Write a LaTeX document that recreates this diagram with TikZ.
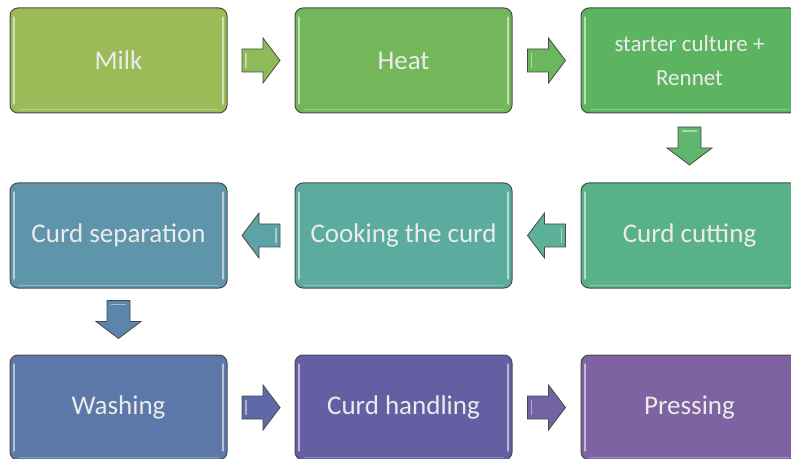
\documentclass[tikz,border=0pt]{standalone}
\usepackage{fontspec}
\setmainfont{Carlito}
\usetikzlibrary{calc}
\definecolor{cMilk}{HTML}{9BBB59}
\definecolor{cHeat}{HTML}{74B65A}
\definecolor{cStart}{HTML}{5DB460}
\definecolor{cCut}{HTML}{59B287}
\definecolor{cCook}{HTML}{5BAC9F}
\definecolor{cSep}{HTML}{5E95AA}
\definecolor{cWash}{HTML}{5B78A9}
\definecolor{cHand}{HTML}{645FA3}
\definecolor{cPress}{HTML}{7F62A1}
\definecolor{aA}{HTML}{8DBB5A}
\definecolor{aB}{HTML}{6BB65E}
\definecolor{aC}{HTML}{5FB66E}
\definecolor{aD}{HTML}{5DB099}
\definecolor{aE}{HTML}{5CA2A6}
\definecolor{aF}{HTML}{5D84AD}
\definecolor{aG}{HTML}{5E6AA8}
\definecolor{aH}{HTML}{7463A3}
\definecolor{edge}{HTML}{4A4A4A}
\tikzset{
  stepbox/.style={draw=edge, line width=1pt, rounded corners=8pt,
    minimum width=217pt, minimum height=105pt, inner sep=0pt,
    text=white!92!black, align=center,
    font=\fontsize{27}{33}\selectfont,
    path picture={
      \draw[white, opacity=.55, line width=1.3pt, line cap=round]
        ([xshift=4pt,yshift=-9pt]path picture bounding box.north west) --
        ([xshift=4pt,yshift=9pt]path picture bounding box.south west);
      \draw[white, opacity=.55, line width=1.3pt, line cap=round]
        ([xshift=-4pt,yshift=-9pt]path picture bounding box.north east) --
        ([xshift=-4pt,yshift=9pt]path picture bounding box.south east);
      \draw[white, opacity=.3, line width=1pt, line cap=round]
        ([xshift=9pt,yshift=3pt]path picture bounding box.south west) --
        ([xshift=-9pt,yshift=3pt]path picture bounding box.south east);
    }},
  blockarrow/.pic={
    \path[draw=edge, line width=0.8pt, line join=miter, pic actions]
      (-19,-11.5) -- (2,-11.5) -- (2,-22.5) -- (19,0) -- (2,22.5) -- (2,11.5) -- (-19,11.5) -- cycle;
    \draw[white, opacity=.45, line width=1.2pt, line cap=round] (-15,-7) -- (-15,7);
  }
}
\begin{document}
\begin{tikzpicture}[x=1pt,y=1pt]
\useasboundingbox (0,0) rectangle (791,458);
\clip (0,0) rectangle (791,458);
\fill[white] (0,0) rectangle (791,458);
% row 1
\node[stepbox, fill=cMilk]  (milk)  at (118.5,397.5) {Milk};
\node[stepbox, fill=cHeat]  (heat)  at (403.5,397.5) {Heat};
\node[stepbox, fill=cStart, font=\fontsize{23}{34}\selectfont] (start) at (689.5,397.5) {starter culture +\\Rennet};
% row 2
\node[stepbox, fill=cSep]   (sep)   at (118.5,222.5) {Curd separation};
\node[stepbox, fill=cCook]  (cook)  at (403.5,222.5) {Cooking the curd};
\node[stepbox, fill=cCut]   (cut)   at (689.5,222.5) {Curd cutting};
% row 3
\node[stepbox, fill=cWash]  (wash)  at (118.5,50.5) {Washing};
\node[stepbox, fill=cHand]  (hand)  at (403.5,50.5) {Curd handling};
\node[stepbox, fill=cPress] (press) at (689.5,50.5) {Pressing};
% arrows
\pic[fill=aA] at ($(milk.east)!0.5!(heat.west)$) {blockarrow};
\pic[fill=aB] at ($(heat.east)!0.5!(start.west)$) {blockarrow};
\pic[fill=aC, rotate=-90] at ($(start.south)!0.5!(cut.north)+(0,2)$) {blockarrow};
\pic[fill=aD, rotate=180] at ($(cut.west)!0.5!(cook.east)$) {blockarrow};
\pic[fill=aE, rotate=180] at ($(cook.west)!0.5!(sep.east)$) {blockarrow};
\pic[fill=aF, rotate=-90] at ($(sep.south)!0.5!(wash.north)+(0,2)$) {blockarrow};
\pic[fill=aG] at ($(wash.east)!0.5!(hand.west)$) {blockarrow};
\pic[fill=aH] at ($(hand.east)!0.5!(press.west)$) {blockarrow};
\end{tikzpicture}
\end{document}
